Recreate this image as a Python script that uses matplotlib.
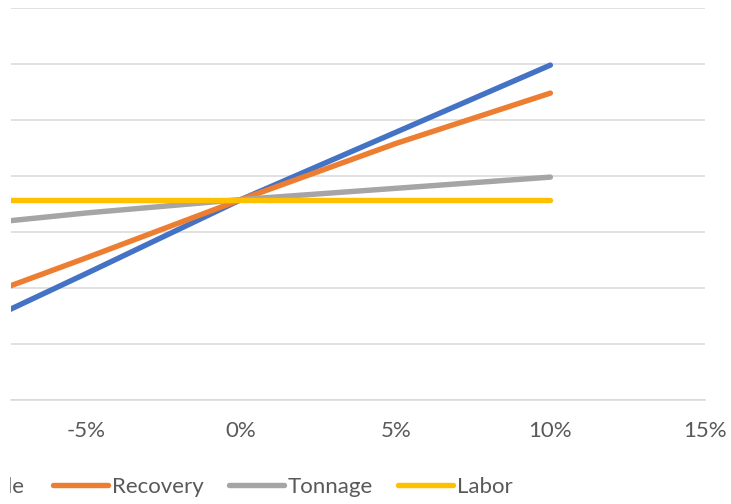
import matplotlib
matplotlib.use("Agg")
import matplotlib.pyplot as plt
from matplotlib.lines import Line2D
from matplotlib.patches import Rectangle

# Sensitivity of the result to a change in each input
change = [-0.10, -0.05, 0.0, 0.05, 0.10]
grade = [48, 113, 179, 239, 299]
recovery = [76, 127, 179, 229, 274]
tonnage = [153, 167, 179, 189, 199]
labor = [179, 179, 179, 179, 179]

series_names = ["Grade", "Recovery", "Tonnage", "Labor"]
series_values = [grade, recovery, tonnage, labor]
colors = ["#4472C4", "#ED7D31", "#A5A5A5", "#FFC000"]

x_ticks = [-0.05, 0.0, 0.05, 0.10, 0.15]
x_tick_labels = ["-5%", "0%", "5%", "10%", "15%"]
y_ticks = [0, 50, 100, 150, 200, 250, 300, 350]

W, H = 731, 504
plt.rcParams["font.family"] = ["Lato", "DejaVu Sans"]

fig = plt.figure(figsize=(W / 100, H / 100), dpi=100)
ax = fig.add_axes([11 / W, (H - 400) / H, (705 - 11) / W, 392 / H])

for name, vals, col in zip(series_names, series_values, colors):
    ax.plot(change, vals, color=col, lw=3.9, solid_capstyle="round", label=name, zorder=3)

ax.set_xlim(-0.0744, 0.15)
ax.set_ylim(0, 350)
ax.set_xticks(x_ticks)
ax.set_xticklabels(x_tick_labels)
ax.set_yticks(y_ticks)
ax.set_yticklabels([])
ax.tick_params(axis="both", length=0)
ax.tick_params(axis="x", pad=15, labelsize=16, labelcolor="#595959")
ax.grid(axis="y", color="#D9D9D9", lw=1.1, zorder=0)
for side in ["left", "right", "top"]:
    ax.spines[side].set_visible(False)
ax.spines["bottom"].set_color("#D9D9D9")
ax.spines["bottom"].set_linewidth(1.1)

# Legend along the bottom edge; the first entry runs past the left border
legend_y = (H - 485) / H
text_y = (H - 493) / H
text_right_first = 24
handle_starts = [-95, 53, 229, 398]
for i, (name, col, x0) in enumerate(zip(series_names, colors, handle_starts)):
    fig.add_artist(Line2D([x0 / W, (x0 + 55) / W], [legend_y, legend_y], color=col,
                          lw=3.9, solid_capstyle="round", transform=fig.transFigure))
    if i == 0:
        fig.text(text_right_first / W, text_y, name, fontsize=16, color="#595959",
                 va="baseline", ha="right")
    else:
        fig.text((x0 + 59) / W, text_y, name, fontsize=16, color="#595959",
                 va="baseline", ha="left")

# Blank margin strip on the left edge
fig.add_artist(Rectangle((0, 0), 10 / W, 1, transform=fig.transFigure,
                         facecolor="white", edgecolor="none", zorder=20))

fig.savefig("out.png", dpi=100)
